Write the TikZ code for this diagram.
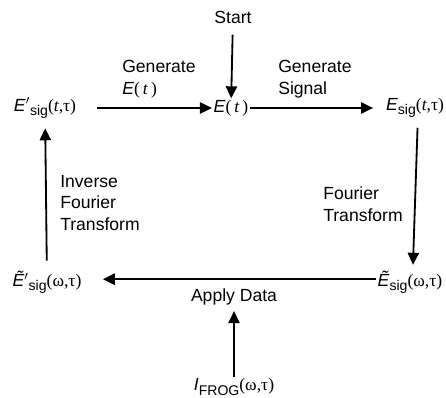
\documentclass[tikz,border=0pt]{standalone}
\usepackage{fontspec}
\setmainfont{Liberation Sans}
\newfontfamily\grk{Liberation Serif}
\usetikzlibrary{arrows.meta}
\newcommand{\lo}[1]{\raisebox{-0.45ex}{\fontsize{10}{10}\selectfont #1}}
\newcommand{\args}[2]{{\grk(#1,#2)}}
\newcommand{\of}[1]{{\grk(\,#1\,)}}
\begin{document}
\begin{tikzpicture}[x=0.025cm,y=-0.025cm,
    every node/.style={font=\fontsize{12.5}{15.6}\selectfont},
    qty/.style={inner sep=1pt},
    lbl/.style={inner sep=0pt,align=left,anchor=west},
    arr/.style={line width=1.3pt,-{Triangle[length=3mm,width=2.8mm]}}]
    \useasboundingbox (0,0) rectangle (446,398);
    % quantities
    \node[qty] (start) at (233,17) {Start};
    \node[qty] (et) at (231,108) {\textit{E}\of{\textit{t}}};
    \node[qty] (esigt) at (45,108) {\textit{E}$'$\lo{sig}\args{\textit{t}}{τ}};
    \node[qty] (esigtr) at (415,108) {\textit{E}\lo{sig}\args{\textit{t}}{τ}};
    \node[qty] (esigwr) at (410,282) {\textit{Ẽ}\lo{sig}\args{ω}{τ}};
    \node[qty] (esigw) at (47,282) {\textit{Ẽ}$'$\lo{sig}\args{ω}{τ}};
    \node[qty] (ifrog) at (234,387) {\textit{I}\lo{FROG}\args{ω}{τ}};
    % labels
    \node[lbl] (gen) at (122,79) {Generate\\\textit{E}\of{\textit{t}}};
    \node[lbl] (gsig) at (278,79) {Generate\\Signal};
    \node[lbl] (ft) at (323,204) {Fourier\\Transform};
    \node[lbl] (ift) at (60,203) {Inverse\\Fourier\\Transform};
    \node[inner sep=0pt] (apply) at (234,297) {Apply Data};
    % arrows
    \draw[arr,shorten <=7] (start) -- (et);
    \draw[arr,shorten <=14] (esigt) -- (et);
    \draw[arr,shorten >=8] (et) -- (esigtr);
    \draw[arr,shorten <=6,shorten >=3] ([xshift=2]esigtr.south) -- ([xshift=2]esigwr.north);
    \draw[arr,shorten >=14] ([yshift=2]esigwr.west) -- ([yshift=2]esigw.east);
    \draw[arr,shorten <=6,shorten >=6] (esigw) -- (esigt);
    \draw[arr,shorten >=4] (ifrog) -- (apply);
\end{tikzpicture}
\end{document}
